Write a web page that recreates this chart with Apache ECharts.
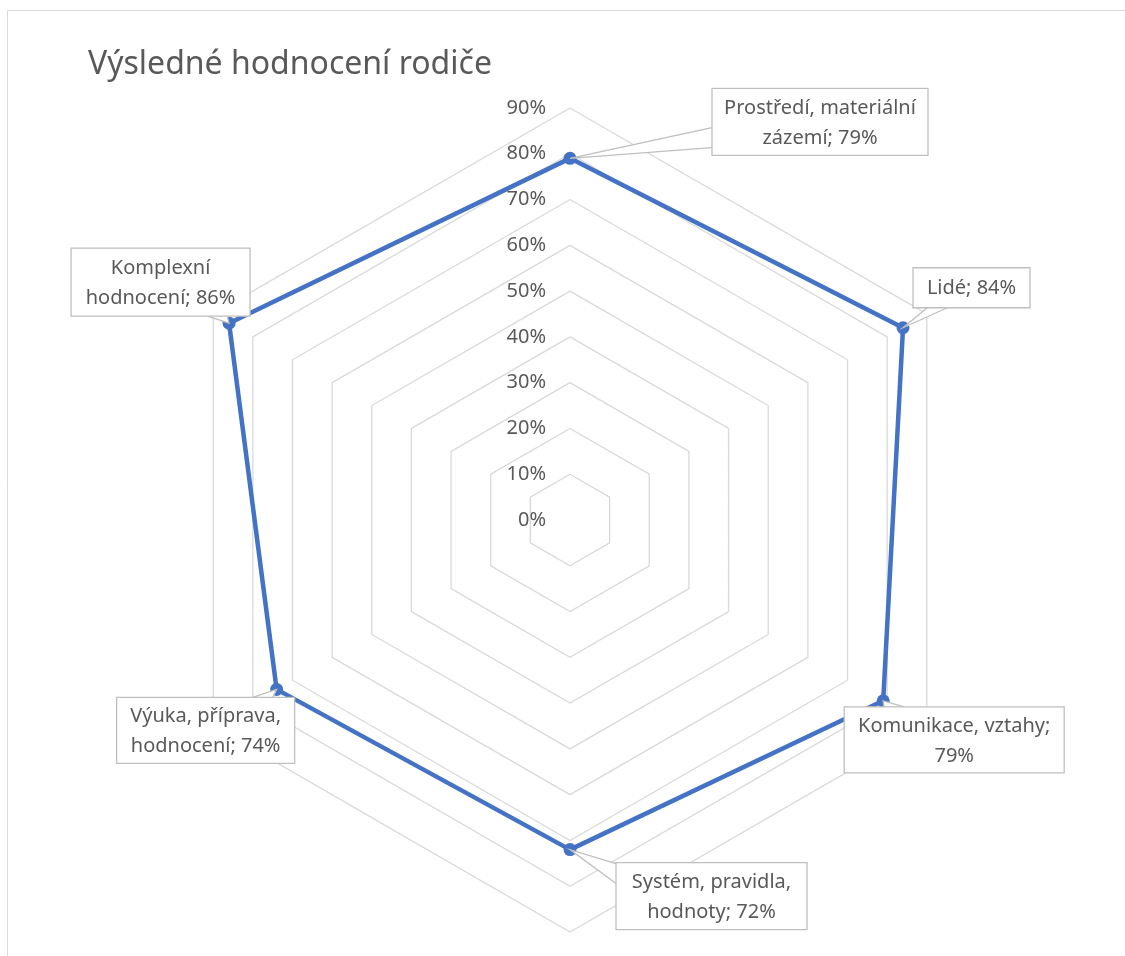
<!DOCTYPE html>
<html>
<head>
<meta charset="utf-8">
<script src="https://cdn.jsdelivr.net/npm/echarts@6/dist/echarts.min.js"></script>
<style>
  html, body { margin: 0; padding: 0; background: #fff; }
  #chart { width: 1125px; height: 956px; }
</style>
</head>
<body>
<div id="chart"></div>
<script>
// categories listed counter-clockwise from the top (ECharts lays radar axes out that way)
const categories = [
  'Prostředí, materiální zázemí',
  'Komplexní hodnocení',
  'Výuka, příprava, hodnocení',
  'Systém, pravidla, hodnoty',
  'Komunikace, vztahy',
  'Lidé',
]
const values = [79, 86, 74, 72, 79, 84]
// word after which each data label wraps onto its second line
const wrapAfter = ['materiální', 'Komplexní', 'příprava,', 'pravidla,', 'vztahy;', null]
const tickMin = 0
const tickMax = 90
const tickCount = 9

// callout box placement relative to each point: [dx, dy, width, height]
const calloutLayout = [
  [142, -70, 216, 67],
  [-158, -75, 179, 68],
  [-160, 8, 178, 66],
  [46, 13, 191, 67],
  [-39, 6, 220, 66],
  [10, -60, 117, 40],
]

const FONT = '"Noto Sans", "Open Sans", sans-serif'
const TEXT = '#595959'

const chart = echarts.init(document.getElementById('chart'))

chart.setOption({
  animation: false,
  textStyle: { fontFamily: FONT },
  title: {
    text: 'Výsledné hodnocení rodiče',
    left: 83,
    top: 44,
    textStyle: { fontSize: 32, fontWeight: 'normal', color: TEXT, fontFamily: FONT },
  },
  radar: {
    center: [570, 520],
    radius: 412,
    startAngle: 90,
    shape: 'polygon',
    splitNumber: tickCount,
    indicator: categories.map((name, i) => {
      const ind = { name, min: tickMin, max: tickMax }
      if (i === 0) ind.axisLabel = { show: true }
      return ind
    }),
    axisName: { show: false },
    axisLine: { show: false },
    axisTick: { show: false },
    splitArea: { show: false },
    splitLine: { lineStyle: { color: '#d9d9d9', width: 1.3 } },
    axisLabel: {
      show: false,
      showMinLabel: true,
      formatter: '{value}%',
      color: TEXT,
      fontSize: 20,
      margin: 24,
      padding: [8, 0, 0, 0],
      fontFamily: FONT,
    },
  },
  series: [
    {
      type: 'radar',
      symbol: 'circle',
      symbolSize: 13,
      lineStyle: { color: '#4472C4', width: 4.5 },
      itemStyle: { color: '#4472C4' },
      data: [{ value: values, name: 'Výsledné hodnocení' }],
    },
  ],
})

// callouts with wedge pointers, positioned from the radar's own coordinates
const radarCS = chart.getModel().getComponent('radar').coordinateSystem

const wedge = (p, b) => {
  const cx = b.x + b.w / 2, cy = b.y + b.h / 2
  const dx = p[0] - cx, dy = p[1] - cy
  const tx = dx !== 0 ? (b.w / 2) / Math.abs(dx) : Infinity
  const ty = dy !== 0 ? (b.h / 2) / Math.abs(dy) : Infinity
  const hw = 10
  if (tx < ty) {
    const ex = cx + dx * tx, ey = cy + dy * tx
    const y1 = Math.max(b.y + 1, Math.min(b.y + b.h - 2 * hw - 1, ey - hw))
    return [[ex, y1], p, [ex, y1 + 2 * hw]]
  }
  const ex = cx + dx * ty, ey = cy + dy * ty
  const x1 = Math.max(b.x + 1, Math.min(b.x + b.w - 2 * hw - 1, ex - hw))
  return [[x1, ey], p, [x1 + 2 * hw, ey]]
}

const graphics = [
  {
    type: 'rect',
    silent: true,
    z: 0,
    shape: { x: 7.5, y: 10.5, width: 1140, height: 980 },
    style: { fill: 'none', stroke: '#d9d9d9', lineWidth: 1 },
  },
]

values.forEach((v, i) => {
  const p = radarCS.dataToPoint(v, i)
  const [dx, dy, w, h] = calloutLayout[i]
  const b = { x: p[0] + dx, y: p[1] + dy, w, h }
  let text = categories[i] + '; ' + v + '%'
  if (wrapAfter[i]) text = text.replace(wrapAfter[i] + ' ', wrapAfter[i] + '\n')
  graphics.push({
    type: 'polyline',
    silent: true,
    z: 20,
    shape: { points: wedge(p, b) },
    style: { fill: '#fff', stroke: '#bfbfbf', lineWidth: 1.3 },
  })
  graphics.push({
    type: 'rect',
    silent: true,
    z: 21,
    shape: { x: b.x, y: b.y, width: w, height: h },
    style: { fill: '#fff', stroke: '#bfbfbf', lineWidth: 1.3 },
  })
  graphics.push({
    type: 'text',
    silent: true,
    z: 22,
    x: b.x + w / 2,
    y: b.y + h / 2 + 1,
    style: {
      text,
      fill: TEXT,
      font: '20px ' + FONT,
      align: 'center',
      verticalAlign: 'middle',
      lineHeight: 30,
    },
  })
})

chart.setOption({ graphic: graphics })

window.addEventListener('resize', () => chart.resize())
</script>
</body>
</html>
